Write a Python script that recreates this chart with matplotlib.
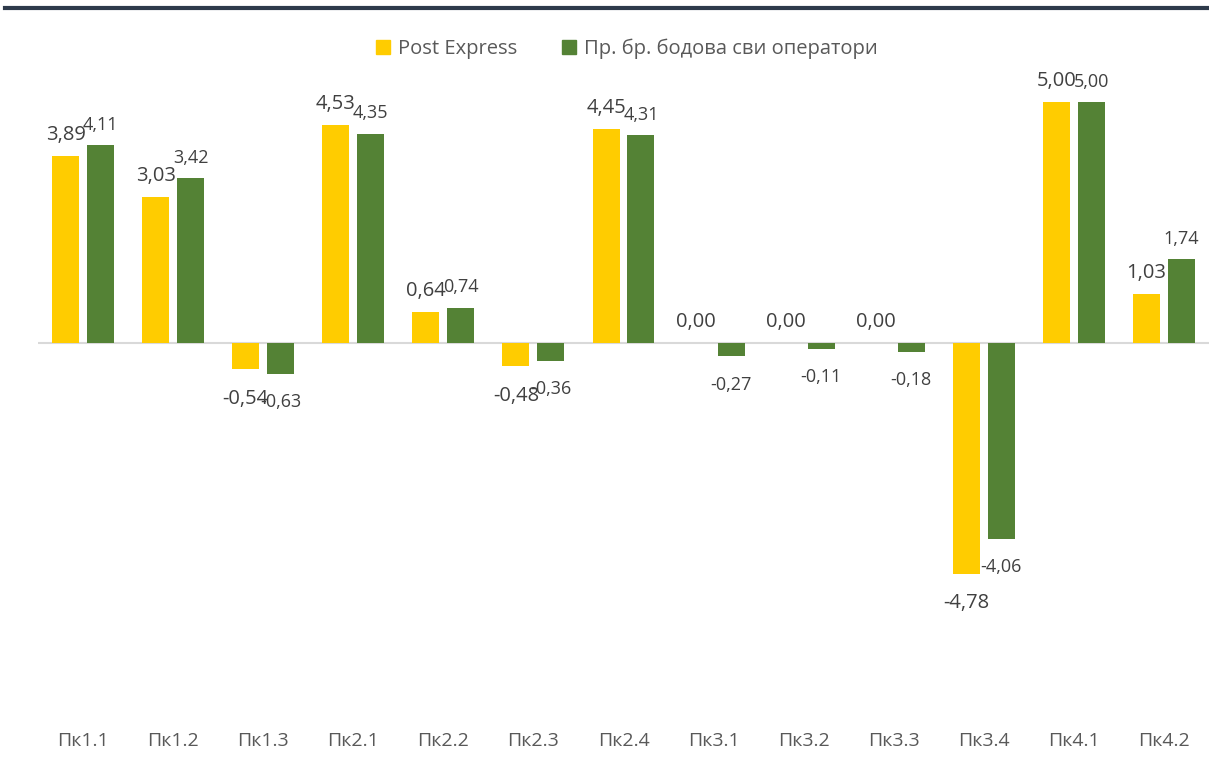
import numpy as np
import matplotlib.pyplot as plt
from matplotlib.patches import Patch
from matplotlib.lines import Line2D

plt.rcParams['font.family'] = ['Open Sans', 'DejaVu Sans']

categories = ['Пк1.1', 'Пк1.2', 'Пк1.3', 'Пк2.1', 'Пк2.2', 'Пк2.3', 'Пк2.4',
              'Пк3.1', 'Пк3.2', 'Пк3.3', 'Пк3.4', 'Пк4.1', 'Пк4.2']
post_express = [3.89, 3.03, -0.54, 4.53, 0.64, -0.48, 4.45, 0.00, 0.00, 0.00, -4.78, 5.00, 1.03]
all_operators = [4.11, 3.42, -0.63, 4.35, 0.74, -0.36, 4.31, -0.27, -0.11, -0.18, -4.06, 5.00, 1.74]
series_names = ['Post Express', 'Пр. бр. бодова сви оператори']

yellow = '#FFCC00'
green = '#548235'
txt = '#404040'

W, H = 1209, 769
fig = plt.figure(figsize=(W / 100, H / 100), dpi=100)
ax = fig.add_axes([38 / W, 1 - 729 / H, (W - 38) / W, (729 - 54) / H])

x = np.arange(len(categories))
bw = 0.30
off = 0.194

b1 = ax.bar(x - off, post_express, bw, color=yellow, zorder=3)
b2 = ax.bar(x + off, all_operators, bw, color=green, zorder=3)

ax.axhline(0, color='#D9D9D9', lw=1.5, zorder=2)
ax.set_xlim(-0.5, len(categories) - 0.5)
ax.set_ylim(-8, 6)

def fmt(v):
    return ('%.2f' % v).replace('.', ',')

# подписи: већи за Post Express, мањи за просек
for bars, vals, fs in ((b1, post_express, 14.5), (b2, all_operators, 13)):
    for r, v in zip(bars, vals):
        cx = r.get_x() + r.get_width() / 2
        if v >= 0:
            ax.annotate(fmt(v), (cx, v), xytext=(0, 8), textcoords='offset points',
                        ha='center', va='bottom', fontsize=fs, color=txt, zorder=4)
        else:
            ax.annotate(fmt(v), (cx, v), xytext=(0, -14), textcoords='offset points',
                        ha='center', va='top', fontsize=fs, color=txt, zorder=4)

ax.set_xticks(x)
ax.set_xticklabels(categories, fontsize=14, color='#595959')
ax.tick_params(axis='x', length=0, pad=2)
ax.set_yticks([])
for s in ax.spines.values():
    s.set_visible(False)

# dark rule at the top
fig.add_artist(Line2D([5 / W, 1], [1 - 8 / H, 1 - 8 / H], color='#2E3A4B', lw=3,
                      transform=fig.transFigure))

handles = [Patch(color=yellow), Patch(color=green)]
fig.legend(handles, series_names, loc='center', bbox_to_anchor=(627 / W, 1 - 49 / H),
           ncol=2, frameon=False, fontsize=14.5, handlelength=0.7, handleheight=0.7,
           handletextpad=0.4, columnspacing=2.2, labelcolor='#595959')

fig.savefig('out.png', dpi=100)
